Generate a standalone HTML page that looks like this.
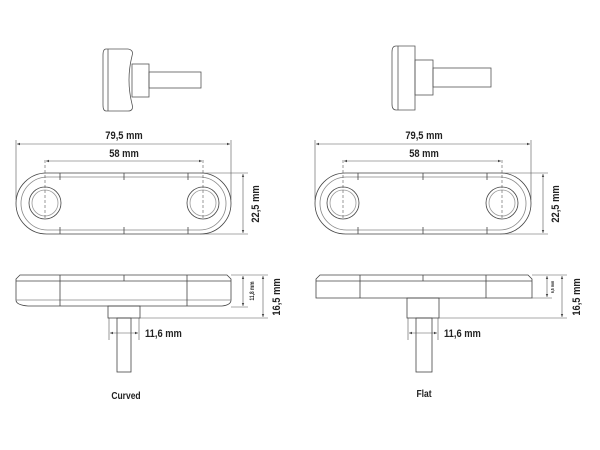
<!DOCTYPE html>
<html><head><meta charset="utf-8"><style>html,body{margin:0;padding:0;background:#fff}svg{display:block}
text{font-family:"Liberation Sans",sans-serif;font-weight:bold;fill:#222}</style></head>
<body>
<svg width="600" height="450" viewBox="0 0 600 450" xmlns="http://www.w3.org/2000/svg">
<defs>
<marker id="a" viewBox="0 0 10 10" refX="10" refY="5" markerWidth="5" markerHeight="5" orient="auto-start-reverse"><path d="M0,1L10,5L0,9z" fill="#444"/></marker>
</defs>
<g fill="none" stroke="#555" stroke-width="0.8">
<!-- small top views -->
<path d="M106,49 L128,49 Q134,50 132,56 Q126,80 132,104 Q134,111 128,111 L106,111 Q103,111 103,105 L103,55 Q103,49 106,49z"/>
<line x1="108" y1="49" x2="108" y2="111"/>
<rect x="132" y="64" width="17" height="33"/>
<rect x="149" y="72" width="52" height="16"/>
<path d="M396,46 L415,46 L415,110 L396,110 Q392,110 392,104 L392,52 Q392,46 396,46z"/>
<line x1="398" y1="46" x2="398" y2="110"/>
<rect x="415" y="60" width="18" height="35"/>
<rect x="433" y="68" width="58" height="19"/>
</g>
<g fill="none" stroke="#444" stroke-width="0.8">
<!-- top views -->
<rect x="16" y="173" width="215" height="61" rx="30.5"/>
<rect x="21" y="177" width="205" height="53" rx="26.5" stroke="#888"/>
<circle cx="45" cy="203" r="16"/><circle cx="45" cy="203" r="13" stroke="#999"/>
<circle cx="203" cy="203" r="16"/><circle cx="203" cy="203" r="13" stroke="#999"/>
<line x1="60" y1="173" x2="60" y2="180"/><line x1="124" y1="173" x2="124" y2="180"/><line x1="188" y1="173" x2="188" y2="180"/>
<line x1="60" y1="227" x2="60" y2="234"/><line x1="124" y1="227" x2="124" y2="234"/><line x1="188" y1="227" x2="188" y2="234"/>
<rect x="315" y="173" width="216" height="61" rx="30.5"/>
<rect x="320" y="177" width="206" height="53" rx="26.5" stroke="#888"/>
<circle cx="343" cy="203" r="16"/><circle cx="343" cy="203" r="13" stroke="#999"/>
<circle cx="502" cy="203" r="16"/><circle cx="502" cy="203" r="13" stroke="#999"/>
<line x1="358" y1="173" x2="358" y2="180"/><line x1="423" y1="173" x2="423" y2="180"/><line x1="487" y1="173" x2="487" y2="180"/>
<line x1="358" y1="227" x2="358" y2="234"/><line x1="423" y1="227" x2="423" y2="234"/><line x1="487" y1="227" x2="487" y2="234"/>
<!-- side views -->
<path d="M20,275 L227,275 L231,279 L231,300 Q231,305 222,306 L28,306 Q16,305 16,300 L16,279z"/>
<line x1="16" y1="281" x2="231" y2="281"/><line x1="16" y1="300" x2="231" y2="300" stroke="#888"/>
<line x1="60" y1="275" x2="60" y2="306"/><line x1="187" y1="275" x2="187" y2="306"/><line x1="124" y1="275" x2="124" y2="281"/>
<rect x="108" y="306" width="32" height="12"/><rect x="117" y="318" width="14" height="54"/>
<path d="M320,275 L528,275 L532,279 L532,298 L316,298 L316,279z"/>
<line x1="316" y1="281" x2="532" y2="281"/>
<line x1="360" y1="275" x2="360" y2="298"/><line x1="486" y1="275" x2="486" y2="298"/><line x1="423" y1="275" x2="423" y2="281"/>
<rect x="407" y="298" width="32" height="20"/><rect x="416" y="318" width="16" height="54"/>
</g>
<g fill="none" stroke="#555" stroke-width="0.6">
<!-- center dashes -->
<line x1="45" y1="160" x2="45" y2="218" stroke-dasharray="3,2"/><line x1="203" y1="160" x2="203" y2="218" stroke-dasharray="3,2"/>
<line x1="343" y1="160" x2="343" y2="218" stroke-dasharray="3,2"/><line x1="502" y1="160" x2="502" y2="218" stroke-dasharray="3,2"/>
<line x1="16" y1="140" x2="16" y2="200"/><line x1="231" y1="140" x2="231" y2="200"/>
<line x1="315" y1="140" x2="315" y2="200"/><line x1="531" y1="140" x2="531" y2="200"/>
<line x1="17" y1="144" x2="230" y2="144" marker-start="url(#a)" marker-end="url(#a)"/>
<line x1="46" y1="161" x2="202" y2="161" marker-start="url(#a)" marker-end="url(#a)"/>
<line x1="316" y1="144" x2="530" y2="144" marker-start="url(#a)" marker-end="url(#a)"/>
<line x1="344" y1="161" x2="501" y2="161" marker-start="url(#a)" marker-end="url(#a)"/>
<line x1="200" y1="173" x2="248" y2="173"/><line x1="200" y1="234" x2="248" y2="234"/>
<line x1="243" y1="174" x2="243" y2="233" marker-start="url(#a)" marker-end="url(#a)"/>
<line x1="500" y1="173" x2="548" y2="173"/><line x1="500" y1="234" x2="548" y2="234"/>
<line x1="543" y1="174" x2="543" y2="233" marker-start="url(#a)" marker-end="url(#a)"/>
<!-- side dims -->
<line x1="231" y1="275" x2="268" y2="275"/><line x1="231" y1="307" x2="248" y2="307"/><line x1="140" y1="318" x2="268" y2="318"/>
<line x1="243" y1="276" x2="243" y2="306" marker-start="url(#a)" marker-end="url(#a)"/>
<line x1="263" y1="276" x2="263" y2="317" marker-start="url(#a)" marker-end="url(#a)"/>
<line x1="109" y1="318" x2="109" y2="340"/><line x1="139" y1="318" x2="139" y2="340"/>
<line x1="110" y1="333" x2="138" y2="333" marker-start="url(#a)" marker-end="url(#a)"/>
<line x1="532" y1="275" x2="567" y2="275"/><line x1="532" y1="298" x2="552" y2="298"/><line x1="439" y1="318" x2="567" y2="318"/>
<line x1="547" y1="276" x2="547" y2="297" marker-start="url(#a)" marker-end="url(#a)"/>
<line x1="562" y1="276" x2="562" y2="317" marker-start="url(#a)" marker-end="url(#a)"/>
<line x1="408" y1="318" x2="408" y2="340"/><line x1="438" y1="318" x2="438" y2="340"/>
<line x1="409" y1="333" x2="437" y2="333" marker-start="url(#a)" marker-end="url(#a)"/>
</g>
<g font-size="11">
<text x="124" y="139" text-anchor="middle" transform="translate(124 0) scale(0.85 1) translate(-124 0)">79,5 mm</text>
<text x="124" y="157" text-anchor="middle" transform="translate(124 0) scale(0.85 1) translate(-124 0)">58 mm</text>
<text x="424" y="139" text-anchor="middle" transform="translate(424 0) scale(0.85 1) translate(-424 0)">79,5 mm</text>
<text x="424" y="157" text-anchor="middle" transform="translate(424 0) scale(0.85 1) translate(-424 0)">58 mm</text>
<text transform="translate(259 204) rotate(-90) scale(0.85 1)" text-anchor="middle">22,5 mm</text>
<text transform="translate(559 204) rotate(-90) scale(0.85 1)" text-anchor="middle">22,5 mm</text>
<text transform="translate(280 297) rotate(-90) scale(0.85 1)" text-anchor="middle">16,5 mm</text>
<text transform="translate(580 297) rotate(-90) scale(0.85 1)" text-anchor="middle">16,5 mm</text>
<text x="145" y="337" transform="translate(145 0) scale(0.85 1) translate(-145 0)">11,6 mm</text>
<text x="444" y="337" transform="translate(444 0) scale(0.85 1) translate(-444 0)">11,6 mm</text>
<text x="126" y="399" text-anchor="middle" font-size="10" transform="translate(126 0) scale(0.85 1) translate(-126 0)">Curved</text>
<text x="424" y="397" text-anchor="middle" font-size="10" transform="translate(424 0) scale(0.85 1) translate(-424 0)">Flat</text>
<text transform="translate(254 291) rotate(-90) scale(0.8 1)" text-anchor="middle" font-size="6">11,8 mm</text>
<text transform="translate(554 287) rotate(-90) scale(0.8 1)" text-anchor="middle" font-size="4.5">6,5 mm</text>
</g>
</svg>
</body></html>
